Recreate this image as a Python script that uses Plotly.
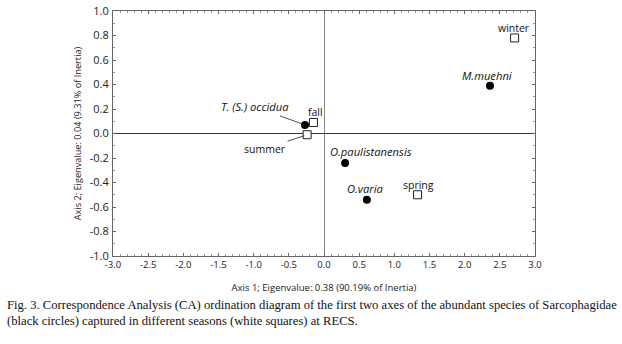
import plotly.graph_objects as go

# Species (black circles)
species = ["T. (S.) occidua", "M.muehni", "O.paulistanensis", "O.varia"]
species_x = [-0.27, 2.36, 0.30, 0.61]
species_y = [0.07, 0.39, -0.24, -0.54]

# Seasons (white squares)
seasons = ["fall", "summer", "winter", "spring"]
season_x = [-0.15, -0.24, 2.71, 1.33]
season_y = [0.09, -0.01, 0.78, -0.50]

# Axis ticks
x_ticks = [-3.0, -2.5, -2.0, -1.5, -1.0, -0.5, 0.0, 0.5, 1.0, 1.5, 2.0, 2.5, 3.0]
y_ticks = [-1.0, -0.8, -0.6, -0.4, -0.2, 0.0, 0.2, 0.4, 0.6, 0.8, 1.0]
x_ticktext = [f"{v:.1f}" for v in x_ticks]
y_ticktext = [f"{v:.1f}" for v in y_ticks]

x_title = "Axis 1; Eigenvalue: 0.38 (90.19% of Inertia)"
y_title = "Axis 2; Eigenvalue: 0.04 (9.31% of Inertia)"
caption = ("Fig. 3. Correspondence Analysis (CA) ordination diagram of the first two axes of the abundant species of Sarcophagidae<br>"
           "(black circles) captured in different seasons (white squares) at RECS.")

# label placement offsets (pixels) and whether a leader line is used
species_off = [(-50, -18, True), (-3, 10, False), (26, 11, False), (-1, 11, False)]
season_off = [(2, 10, False), (-42, 14, True), (-1, 10, False), (1, 10, False)]

fig = go.Figure()
fig.add_trace(go.Scatter(x=species_x, y=species_y, mode="markers",
                         marker=dict(symbol="circle", size=8, color="black"),
                         hoverinfo="skip", showlegend=False))
fig.add_trace(go.Scatter(x=season_x, y=season_y, mode="markers",
                         marker=dict(symbol="square", size=8, color="white",
                                     line=dict(color="#222", width=1)),
                         hoverinfo="skip", showlegend=False))

sans = "Open Sans, Liberation Sans, sans-serif"

def add_labels(names, xs, ys, offs, italic):
    for n, x, y, (dx, dy, arrow) in zip(names, xs, ys, offs):
        txt = f"<i>{n}</i>" if italic else n
        f = dict(family=sans, size=11.2 if italic else 10.5, color="#111")
        if arrow:
            fig.add_annotation(x=x, y=y, xref="x", yref="y", text=txt,
                               showarrow=True, arrowhead=0, arrowwidth=0.8,
                               arrowcolor="#222", ax=dx, ay=dy, standoff=3,
                               font=f)
        else:
            fig.add_annotation(x=x, y=y, xref="x", yref="y", text=txt,
                               showarrow=False, xshift=dx, yshift=dy, font=f)

add_labels(species, species_x, species_y, species_off, True)
add_labels(seasons, season_x, season_y, season_off, False)

fig.add_annotation(x=-0.257, y=-0.163, xref="paper", yref="paper", yanchor="top",
                   xanchor="left", align="left", showarrow=False, text=caption,
                   font=dict(family="Liberation Serif, Times New Roman, serif",
                             size=12.65, color="#111"))

axis_common = dict(showgrid=False, showline=True, linecolor="#666", linewidth=1,
                   mirror="allticks", ticks="inside", ticklen=3, tickcolor="#666",
                   zeroline=True, automargin=False, tickmode="array")

fig.update_xaxes(range=[-3, 3], tickvals=x_ticks, ticktext=x_ticktext,
                 zerolinecolor="#888", zerolinewidth=1,
                 tickfont=dict(family=sans, size=9.5, color="#222"),
                 minor=dict(dtick=0.1, tick0=0, ticks="inside", ticklen=2, tickcolor="#999"),
                 title=dict(text=x_title, standoff=13,
                            font=dict(family=sans, size=9.5, color="#222")),
                 **axis_common)
fig.update_yaxes(range=[-1, 1], tickvals=y_ticks, ticktext=y_ticktext,
                 zerolinecolor="#333", zerolinewidth=1,
                 tickfont=dict(family=sans, size=11, color="#222"),
                 ticklabelstandoff=1,
                 minor=dict(dtick=0.1, tick0=0, ticks="inside", ticklen=2, tickcolor="#999"),
                 title=dict(text=y_title, standoff=6,
                            font=dict(family=sans, size=9.2, color="#222")),
                 **axis_common)

fig.update_layout(width=622, height=344, paper_bgcolor="white", plot_bgcolor="white",
                  margin=dict(l=113, r=87, t=11, b=88))

# remove the default page margin so the figure sits at the window's top-left corner
fig.write_html("out.html", config={"displayModeBar": False},
               post_script="document.body.style.margin='0';")
